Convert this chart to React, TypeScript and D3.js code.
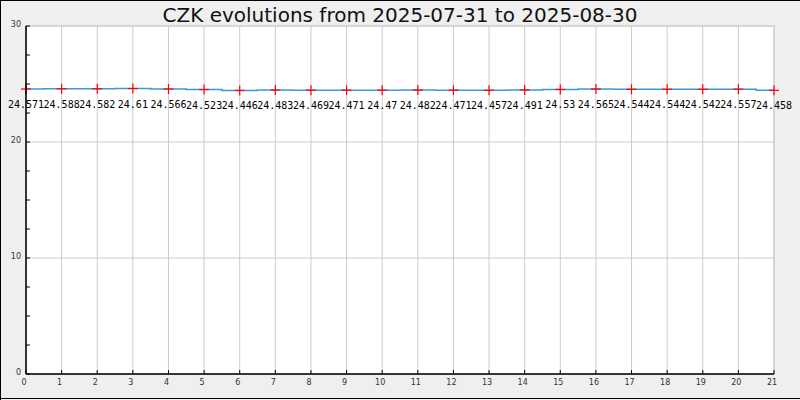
import React from "react";
import * as d3 from "d3";

const title = "CZK evolutions from 2025-07-31 to 2025-08-30";
const days: number[] = Array.from({ length: 22 }, (_, i) => i);
const rates: number[] = [
  24.571, 24.588, 24.582, 24.61, 24.566, 24.523, 24.446, 24.483, 24.469, 24.471,
  24.47, 24.482, 24.471, 24.457, 24.491, 24.53, 24.565, 24.544, 24.544, 24.542,
  24.557, 24.458,
];
const yMajorTicks: number[] = [0, 10, 20, 30];
const yMinorTicks: number[] = [0, 2.5, 5, 7.5, 10, 12.5, 15, 17.5, 20, 22.5, 25, 27.5, 30];

const W = 800;
const H = 400;
const left = 26;
const right = 774;
const top = 26;
const bottom = 374;

export default function App() {
  const x = d3.scaleLinear().domain([0, 21]).range([left, right]);
  const y = d3.scaleLinear().domain([0, 30]).range([bottom, top]);
  const line = d3
    .line<number>()
    .x((_, i) => x(days[i]))
    .y((d) => y(d))
    .curve(d3.curveStep);
  const xTicks = x.ticks(21);

  return (
    <svg
      width={W}
      height={H}
      style={{ position: "absolute", left: 0, top: 0, display: "block" }}
    >
      <rect x={0} y={0} width={W} height={H} fill="#efefef" />
      <line x1={0.5} y1={0} x2={0.5} y2={H} stroke="#000" />
      <line x1={0} y1={0.5} x2={W} y2={0.5} stroke="#000" />
      <line x1={0} y1={H - 1.5} x2={W} y2={H - 1.5} stroke="#000" />
      <rect x={left} y={top} width={right - left} height={bottom - top} fill="#fff" stroke="#ccc" />
      {xTicks.map((t) => (
        <line key={"gx" + t} x1={x(t)} x2={x(t)} y1={top} y2={bottom} stroke="#ccc" />
      ))}
      {yMajorTicks.map((t) => (
        <line key={"gy" + t} x1={left} x2={right} y1={y(t)} y2={y(t)} stroke="#ccc" />
      ))}
      <text
        x={W / 2}
        y={22}
        textAnchor="middle"
        fontFamily="DejaVu Sans"
        fontSize={20}
        fill="#111"
      >
        {title}
      </text>
      <path d={line(rates) || ""} fill="none" stroke="#3a98e0" strokeWidth={1.5} />
      {rates.map((v, i) => (
        <g key={"m" + i} transform={`translate(${x(days[i])},${y(v)})`}>
          <line x1={-5} x2={5} y1={0} y2={0} stroke="#ff0000" strokeWidth={1.2} />
          <line x1={0} x2={0} y1={-5} y2={5} stroke="#ff0000" strokeWidth={1.2} />
        </g>
      ))}
      {rates.map((v, i) => (
        <text
          key={"l" + i}
          x={x(days[i])}
          y={y(v) + 19}
          textAnchor="middle"
          fontFamily="DejaVu Sans Mono"
          fontSize={10}
          fill="#000"
        >
          {String(v)}
        </text>
      ))}
      <line x1={left} x2={left} y1={top} y2={bottom} stroke="#000" strokeWidth={1.5} />
      <line x1={left} x2={right} y1={bottom} y2={bottom} stroke="#000" strokeWidth={1.5} />
      {yMinorTicks.map((t) => (
        <line key={"ty" + t} x1={left} x2={left + 4} y1={y(t)} y2={y(t)} stroke="#000" />
      ))}
      {xTicks.map((t) => (
        <line key={"tx" + t} x1={x(t)} x2={x(t)} y1={bottom} y2={bottom - 4} stroke="#000" />
      ))}
      {yMajorTicks.map((t) => (
        <text
          key={"yl" + t}
          x={21}
          y={y(t) + 1}
          textAnchor="end"
          fontFamily="DejaVu Sans"
          fontSize={8}
          fill="#333"
        >
          {t}
        </text>
      ))}
      {xTicks.map((t) => (
        <text
          key={"xl" + t}
          x={x(t) - 2}
          y={385}
          textAnchor="middle"
          fontFamily="DejaVu Sans"
          fontSize={8}
          fill="#333"
        >
          {t}
        </text>
      ))}
    </svg>
  );
}
